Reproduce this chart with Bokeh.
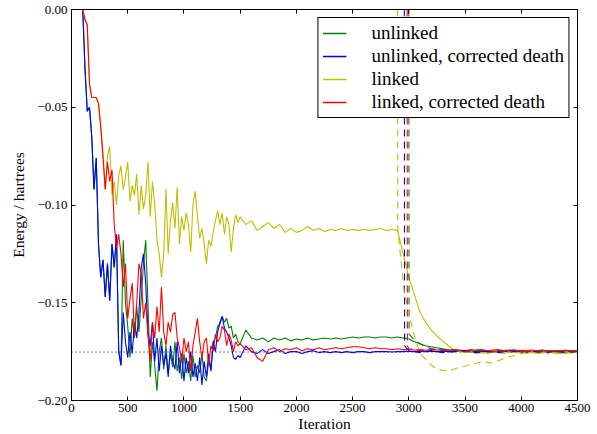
from bokeh.plotting import figure
from bokeh.models import (Range1d, LinearAxis, FixedTicker, CustomJSTickFormatter, Span,
                          Legend, LegendItem)
from bokeh.embed import file_html
from bokeh.resources import INLINE

# ---------------- data (energies in milli-hartree) -------------
ITER_EARLY = [0, 100] + list(range(120, 1500, 20))
ITER_LATE = list(range(1500, 4501, 50))
ITER = ITER_EARLY + ITER_LATE

UNLINKED_MHA = [
    0, 0, -30, -52, -50, -65, -92, -76, -120, -137,
    -128, -147, -130, -149, -120, -132, -115, -175, -182,
    -118, -150, -162, -178, -158, -168, -152, -165, -148, -130,
    -118, -150, -188, -170, -182, -195, -175, -168, -184, -172,
    -186, -176, -183, -170, -185, -178, -189, -176, -186, -180,
    -190, -177, -188, -182, -186, -176, -188, -190, -180, -184,
    -170, -168, -162, -161, -157, -160, -158, -163, -162, -168,
    -166, -170,
    -171, -164, -168, -169, -168, -170, -168, -169, -168, -169.5,
    -168.5, -169, -168, -169, -168.5, -168, -168.5, -168, -168.5, -168,
    -167.5, -168, -167.5, -167.5, -168, -167.5, -167.5, -168, -167.5, -168,
    -168.5, -170, -171, -172, -172.5, -173, -173.5, -174, -174.5, -174.5,
    -174.8, -174.5, -174.8, -174.5, -174.8, -175, -174.5, -174.8, -174.5, -175,
    -174.8, -174.5, -175, -174.8, -175, -174.8, -175, -174.8, -175, -174.8,
    -175,
]

UNLINKED_CD_MHA = [
    0, 0, -30, -52, -50, -65, -92, -76, -120, -137,
    -128, -147, -130, -149, -120, -132, -115, -175, -182, -155,
    -170, -178, -165, -176, -160, -168, -155, -132, -125, -140,
    -165, -172, -160, -180, -168, -185, -172, -182, -176, -188,
    -172, -180, -184, -170, -186, -176, -190, -178, -186, -175,
    -188, -181, -190, -178, -192, -180, -188, -176, -185, -170,
    -175, -165, -160, -157, -163, -165, -168, -172, -178, -179,
    -177,
    -178, -172, -175, -176, -174, -176, -175, -174, -176, -175,
    -175, -176, -175, -174.5, -175.5, -175, -175.5, -175, -175.5, -175,
    -175.5, -175, -175, -175.5, -175, -175, -175, -175.2, -175, -175,
    -174.8, -175, -174.8, -175, -174.8, -175, -174.8, -175, -175, -174.8,
    -175, -175.2, -175, -174.8, -175, -175.2, -175, -174.8, -175.2, -175,
    -175.2, -175, -175.3, -175, -175.2, -175, -175.3, -175.5, -175.2, -175,
    -175.3,
]

LINKED_MHA = [
    0, 0, -5, -8, -38, -45, -45, -45, -48, -60, -75, -92,
    -75, -70, -95, -88, -100, -85, -80, -92, -86, -78,
    -98, -90, -95, -84, -105, -90, -102, -95, -78, -106,
    -88, -100, -118, -125, -137, -125, -92, -125, -108, -99,
    -112, -91, -120, -106, -113, -104, -110, -124, -100, -93,
    -106, -117, -112, -120, -130, -118, -121, -114, -108, -103,
    -110, -104, -115, -106, -110, -124, -112, -105, -109,
    -106, -110, -108, -113, -111, -109, -112, -110, -114, -112,
    -114, -113, -111, -113, -112, -113.5, -112.5, -113, -112, -113,
    -112.5, -113, -112.5, -113, -112.5, -112, -113, -112.5, -113, -125,
    -137, -146, -155, -160, -164, -167, -169.5, -172, -174, -175,
    -175.5, -175, -176, -175.5, -176, -175, -175.5, -176, -175, -175.5,
    -175.5, -176, -175, -176, -175.5, -175, -176, -175.5, -176, -175,
    -175.5,
]

LINKED_CD_MHA = [
    0, 0, -5, -8, -38, -45, -45, -45, -48, -60,
    -75, -92, -78, -88, -82, -110, -122, -115, -125, -142,
    -130, -158, -148, -140, -167, -150, -130, -135, -158, -150,
    -167, -180, -160, -168, -152, -165, -142, -165, -172, -160,
    -165, -156, -155, -168, -173, -180, -168, -175, -170, -185,
    -172, -165, -158, -170, -178, -170, -168, -182, -172, -175,
    -166, -170, -168, -162, -164, -172, -166, -169, -175, -170,
    -172,
    -171, -174, -173, -178, -180, -174, -173, -175, -173.5, -174,
    -173, -174.5, -173.5, -174, -173, -174, -173.5, -173, -173.5, -173,
    -172.5, -172.5, -173, -173.5, -173, -173.5, -173.5, -174, -173.5, -174,
    -174, -174.2, -174, -174.3, -174, -174.2, -174, -174.3, -174, -174.2,
    -174.5, -174, -174.3, -174, -174.5, -174.2, -174, -174.5, -174.2, -174.5,
    -174.3, -174.5, -174.2, -174.6, -174.3, -174.6, -174.4, -174.6, -174.5, -174.4,
    -174.7,
]

# shift (dashed) series, switched on when the variable shift starts
SHIFT_UNLINKED_ITER = [3000, 3002, 3050, 3100, 3150, 3200, 3300, 3400, 3500, 3600,
                       3700, 3800, 3900, 4000, 4100, 4200, 4300, 4400, 4500]
SHIFT_UNLINKED_MHA = [0, -166, -169, -171, -172.5, -173.5, -174, -174.5, -175, -174.5,
                      -175, -174.8, -174.5, -175, -174.8, -175, -174.5, -175, -174.8]

SHIFT_UNLINKED_CD_ITER = [2960, 2962, 3000, 3100, 3200, 3300, 3400, 3500, 3600,
                          3700, 3800, 3900, 4000, 4100, 4200, 4300, 4400, 4500]
SHIFT_UNLINKED_CD_MHA = [0, -172, -174.5, -175.5, -174.5, -175.5, -175, -174.5, -175.5,
                         -175, -175.5, -174.5, -175.5, -175, -175.5, -175, -175.5, -175]

SHIFT_LINKED_ITER = [2900, 2902, 2930, 2960, 3000, 3050, 3100, 3150, 3200, 3250,
                     3300, 3350, 3400, 3450, 3500, 3550, 3600, 3650, 3700, 3750,
                     3800, 3850, 3900, 3950, 4000, 4050, 4100, 4150, 4200, 4250,
                     4300, 4350, 4400, 4450, 4500]
SHIFT_LINKED_MHA = [0, -113, -128, -145, -156, -167, -176, -179, -182, -184,
                    -184.5, -185, -184, -183, -182.5, -181.5, -181, -180, -180.5, -181,
                    -179.5, -178.5, -177.5, -177, -176, -175, -175.5, -176, -175, -176.5,
                    -175.5, -176, -175, -176, -175.5]

SHIFT_LINKED_CD_ITER = [2985, 2987, 3000, 3100, 3200, 3300, 3400, 3500, 3600,
                        3700, 3800, 3900, 4000, 4100, 4200, 4300, 4400, 4500]
SHIFT_LINKED_CD_MHA = [0, -172, -173.5, -174.5, -173.5, -174.5, -174, -175, -174,
                       -174.5, -175, -174, -174.5, -175, -174, -174.8, -174.2, -174.8]

EXACT_ENERGY = -0.1752

LABELS = ["unlinked", "unlinked, corrected death", "linked", "linked, corrected death"]
COLORS = ["#008000", "#0000ff", "#bfbf00", "#ff0000"]

X_TICKS = [0, 500, 1000, 1500, 2000, 2500, 3000, 3500, 4000, 4500]
Y_TICKS = [-0.20, -0.15, -0.10, -0.05, 0.00]


def ha(mha):
    return [v / 1000.0 for v in mha]


FONT = "Liberation Serif"

p = figure(width=597, height=434, x_range=Range1d(0, 4500), y_range=Range1d(-0.2, 0.0),
           output_backend="svg", toolbar_location=None,
           min_border_left=71, min_border_right=20, min_border_top=9, min_border_bottom=4)
p.grid.visible = False
p.background_fill_color = "white"
p.border_fill_color = "white"
p.outline_line_color = "black"
p.outline_line_width = 1
p.outline_line_alpha = 1


def style(ax):
    ax.major_tick_in = 4
    ax.major_tick_out = 0
    ax.minor_tick_line_color = None
    ax.axis_line_color = "black"
    ax.major_tick_line_color = "black"
    ax.major_label_text_font = FONT
    ax.major_label_text_font_size = "13px"
    ax.major_label_text_color = "black"
    ax.axis_label_text_font = FONT
    ax.axis_label_text_font_size = "15.5px"
    ax.axis_label_text_font_style = "normal"
    ax.axis_label_text_color = "black"


xa = p.xaxis[0]
style(xa)
xa.ticker = FixedTicker(ticks=X_TICKS)
xa.axis_label = "Iteration"
xa.major_label_standoff = 3
xa.axis_label_standoff = 0

ya = p.yaxis[0]
style(ya)
ya.ticker = FixedTicker(ticks=Y_TICKS)
ya.formatter = CustomJSTickFormatter(
    code="return (tick < -1e-9 ? '\u2212' : '') + Math.abs(tick).toFixed(2);")
ya.axis_label = "Energy / hartrees"
ya.major_label_standoff = 4
ya.axis_label_standoff = 7

blank = "return '';"
top = LinearAxis(ticker=FixedTicker(ticks=X_TICKS),
                 formatter=CustomJSTickFormatter(code=blank))
style(top)
top.major_label_text_font_size = "1px"
top.major_label_standoff = 0
p.add_layout(top, "above")

right = LinearAxis(ticker=FixedTicker(ticks=Y_TICKS),
                   formatter=CustomJSTickFormatter(code=blank))
style(right)
right.major_label_text_font_size = "1px"
right.major_label_standoff = 0
p.add_layout(right, "right")

p.add_layout(Span(location=EXACT_ENERGY, dimension="width", line_color="black",
                  line_dash="1 3", line_width=1, level="underlay"))

series = [UNLINKED_MHA, UNLINKED_CD_MHA, LINKED_MHA, LINKED_CD_MHA]
for vals, col in zip(series, COLORS):
    p.line(ITER, ha(vals), line_color=col, line_width=1.1)

shifts = [(SHIFT_UNLINKED_ITER, SHIFT_UNLINKED_MHA),
          (SHIFT_UNLINKED_CD_ITER, SHIFT_UNLINKED_CD_MHA),
          (SHIFT_LINKED_ITER, SHIFT_LINKED_MHA),
          (SHIFT_LINKED_CD_ITER, SHIFT_LINKED_CD_MHA)]
for (it, vals), col in zip(shifts, COLORS):
    p.line(it, ha(vals), line_color=col, line_width=1.1, line_dash="7 5")

# legend sample renderers: one NaN point each (nothing drawn in the plot area)
NAN = float("nan")
legend_renderers = [p.line(x=[NAN], y=[NAN], line_color=col, line_width=1.5)
                    for col in COLORS]

legend = Legend(items=[LegendItem(label=l, renderers=[r])
                       for l, r in zip(LABELS, legend_renderers)],
                location="top_right")
legend.margin = 8
legend.padding = 4
legend.spacing = 1
legend.glyph_width = 24
legend.label_standoff = 25
legend.label_text_font = FONT
legend.label_text_font_size = "19px"
legend.label_text_color = "black"
legend.border_line_color = "black"
legend.border_line_width = 1
legend.border_line_alpha = 1
legend.background_fill_color = "white"
legend.background_fill_alpha = 1
p.add_layout(legend, "center")

open("out.html", "w").write(file_html(p, INLINE))
